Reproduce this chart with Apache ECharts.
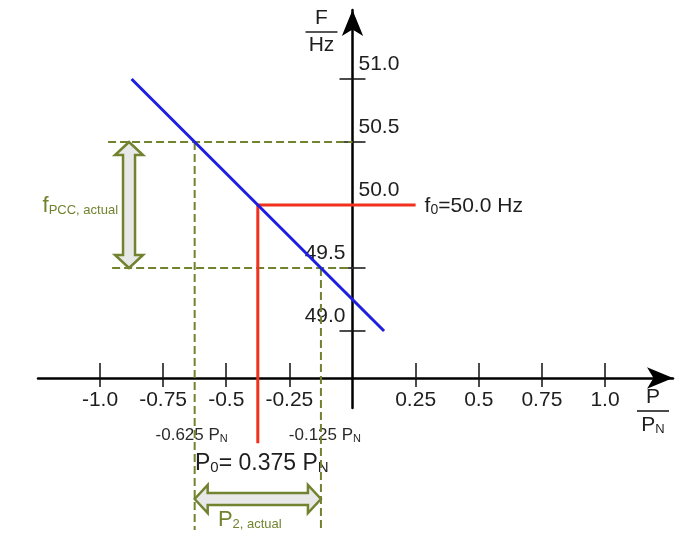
<!DOCTYPE html>
<html>
<head>
<meta charset="utf-8">
<script src="https://cdn.jsdelivr.net/npm/echarts@6/dist/echarts.min.js"></script>
<style>
html,body{margin:0;padding:0;background:#fff;}
#chart{width:692px;height:542px;}
</style>
</head>
<body>
<div id="chart"></div>
<script>
// ---------- data ----------
const xTickValues = [-1.0, -0.75, -0.5, -0.25, 0.25, 0.5, 0.75, 1.0];
const xTickLabels = ['-1.0', '-0.75', '-0.5', '-0.25', '0.25', '0.5', '0.75', '1.0'];
const yTickValues = [49.0, 49.5, 50.0, 50.5, 51.0];
const yTickLabels = ['49.0', '49.5', '50.0', '50.5', '51.0'];
const yLabelsRightSide = [50.0, 50.5, 51.0];
const yLabelsLeftSide = [49.0, 49.5];

// droop characteristic (P/PN, F/Hz)
const droopP = [-0.875, 0.125];
const droopF = [51.0, 49.0];

// operating point
const p0 = -0.375;        // P0 = 0.375 PN (drawn at -0.375)
const f0 = 50.0;          // f0 = 50.0 Hz
const f0LineEndP = 0.25;  // end of f0 reference line

// actual range
const pLow = -0.625;
const pHigh = -0.125;
const fHigh = 50.5;
const fLow = 49.5;

// ---------- layout constants (drawing extents, not data) ----------
const X_MIN = -1.2455, X_MAX = 1.2693;
const Y_MIN = 48.389, Y_MAX = 51.5476;
const Y_AXIS_SHIFT = -314.5;  // y axis drawn at P = 0
const AXIS_F = 48.627;        // where the P axis crosses
const RED_END_F = 48.11;
const GUIDE_START_P = -0.968;
const GUIDE_END_F = 47.42;
const F_ARROW_P = -0.885;
const P_ARROW_F = 47.667;

const OLIVE = '#72832f';
const INK = '#1e1e1e';
const FONT = 'Liberation Sans, Arial, sans-serif';

function lbl(values, labels) {
  return function (v) {
    for (let i = 0; i < values.length; i++) {
      if (Math.abs(values[i] - v) < 1e-9) return labels[i];
    }
    return '';
  };
}

const chart = echarts.init(document.getElementById('chart'), null, {renderer: 'canvas'});

const axisLabelStyle = {color: INK, fontSize: 21, fontFamily: FONT};

function doubleArrow(params, api) {
  const a = api.coord([api.value(0), api.value(1)]);
  const b = api.coord([api.value(2), api.value(3)]);
  const dx = b[0] - a[0], dy = b[1] - a[1];
  const L = Math.sqrt(dx * dx + dy * dy);
  const ux = dx / L, uy = dy / L;
  const nx = -uy, ny = ux;
  const h = 13, W = 14, w = 6;
  const P = (p, s, t) => [p[0] + ux * s + nx * t, p[1] + uy * s + ny * t];
  const pts = [
    a, P(a, h, W), P(a, h, w), P(b, -h, w), P(b, -h, W),
    b, P(b, -h, -W), P(b, -h, -w), P(a, h, -w), P(a, h, -W)
  ];
  return {
    type: 'polygon',
    shape: {points: pts},
    style: {fill: '#e8e8e8', stroke: OLIVE, lineWidth: 2.5, lineJoin: 'miter'}
  };
}

const subRich = {
  big: {fontSize: 23, fontFamily: FONT, color: INK, lineHeight: 26, verticalAlign: 'bottom'},
  sub: {fontSize: 15, fontFamily: FONT, color: INK, lineHeight: 17, verticalAlign: 'bottom'},
  mid: {fontSize: 17, fontFamily: FONT, color: '#2a2a2a', lineHeight: 20, verticalAlign: 'bottom'},
  msub: {fontSize: 11, fontFamily: FONT, color: '#2a2a2a', lineHeight: 14, verticalAlign: 'bottom'},
  gbig: {fontSize: 22, fontFamily: FONT, color: OLIVE, lineHeight: 24, verticalAlign: 'bottom'},
  gsmall: {fontSize: 13, fontFamily: FONT, color: OLIVE, lineHeight: 20, verticalAlign: 'bottom'},
  fbig: {fontSize: 21, fontFamily: FONT, color: INK, lineHeight: 24, verticalAlign: 'bottom'},
  fsub: {fontSize: 14, fontFamily: FONT, color: INK, lineHeight: 16, verticalAlign: 'bottom'}
};

const annotations = [
  {value: [F_ARROW_P, f0], label: {position: 'left', distance: 11, formatter: '{gbig|f}{gsmall|PCC, actual}'}},
  {value: [(pLow + pHigh) / 2, P_ARROW_F], label: {position: 'inside', offset: [-8, 20], formatter: '{gbig|P}{gsmall|2, actual}'}},
  {value: [pLow, AXIS_F], label: {position: 'inside', offset: [-3, 56], formatter: '{mid|' + pLow + ' P}{msub|N}'}},
  {value: [pHigh, AXIS_F], label: {position: 'inside', offset: [4, 56], formatter: '{mid|' + pHigh + ' P}{msub|N}'}},
  {value: [p0, AXIS_F], label: {position: 'inside', offset: [4, 84], formatter: '{big|P}{sub|0}{big|= ' + (-p0) + ' P}{sub|N}'}},
  {value: [f0LineEndP, f0], label: {position: 'right', distance: 9, formatter: '{fbig|f}{fsub|0}{fbig|=' + f0.toFixed(1) + ' Hz}'}}
];

const option = {
  animation: false,
  backgroundColor: '#ffffff',
  grid: {left: 38, right: 19, top: 10, bottom: 134, containLabel: false, outerBoundsMode: 'none'},
  xAxis: [
    {
      type: 'value', min: X_MIN, max: X_MAX, position: 'bottom', offset: -30,
      name: '{n|P}\n{l|}\n{n|P}{s|N}',
      nameLocation: 'end', nameGap: -20,
      nameTextStyle: {
        align: 'center', verticalAlign: 'top', padding: [8, 0, 0, 0],
        rich: {
          n: {fontSize: 21, fontFamily: FONT, color: INK, lineHeight: 22, align: 'center'},
          s: {fontSize: 13, fontFamily: FONT, color: INK, lineHeight: 16, verticalAlign: 'bottom'},
          l: {width: 32, height: 1.6, lineHeight: 6, backgroundColor: INK}
        }
      },
      axisLine: {show: true, onZero: false, symbol: ['none', 'arrow'], symbolSize: [16, 26],
                 lineStyle: {color: '#000', width: 2.5}},
      axisTick: {show: true, inside: true, length: 15, customValues: xTickValues,
                 lineStyle: {color: '#111', width: 1.5}},
      axisLabel: Object.assign({show: true, margin: 12, customValues: xTickValues,
                 formatter: lbl(xTickValues, xTickLabels)}, axisLabelStyle),
      splitLine: {show: false}
    },
    {
      type: 'value', min: X_MIN, max: X_MAX, position: 'bottom', offset: -30,
      axisLine: {show: false, onZero: false},
      axisTick: {show: true, inside: false, length: 9, customValues: xTickValues,
                 lineStyle: {color: '#111', width: 1.5}},
      axisLabel: {show: false},
      splitLine: {show: false}
    }
  ],
  yAxis: [
    {
      type: 'value', min: Y_MIN, max: Y_MAX, position: 'left', offset: Y_AXIS_SHIFT,
      name: '{n|F}\n{l|}\n{n|Hz}',
      nameLocation: 'end', nameGap: -22,
      nameTextStyle: {
        align: 'right', verticalAlign: 'middle', padding: [0, 15, 0, 0],
        rich: {
          n: {fontSize: 21, fontFamily: FONT, color: INK, lineHeight: 23, align: 'center'},
          l: {width: 32, height: 1.6, lineHeight: 4, backgroundColor: INK, align: 'center'}
        }
      },
      axisLine: {show: true, onZero: false, symbol: ['none', 'arrow'], symbolSize: [16, 26],
                 lineStyle: {color: '#000', width: 2.5}},
      axisTick: {show: true, inside: false, length: 13, customValues: yTickValues,
                 lineStyle: {color: '#111', width: 1.5}},
      axisLabel: Object.assign({show: true, inside: true, margin: 6, customValues: yLabelsRightSide,
                 verticalAlign: 'bottom', padding: [0, 0, 4, 0],
                 formatter: lbl(yTickValues, yTickLabels)}, axisLabelStyle),
      splitLine: {show: false}
    },
    {
      type: 'value', min: Y_MIN, max: Y_MAX, position: 'left', offset: Y_AXIS_SHIFT,
      axisLine: {show: false, onZero: false},
      axisTick: {show: true, inside: true, length: 13, customValues: yTickValues,
                 lineStyle: {color: '#111', width: 1.5}},
      axisLabel: Object.assign({show: true, inside: false, margin: 7, customValues: yLabelsLeftSide,
                 verticalAlign: 'bottom', padding: [0, 0, 4, 0],
                 formatter: lbl(yTickValues, yTickLabels)}, axisLabelStyle),
      splitLine: {show: false}
    }
  ],
  series: [
    // guide lines (dashed)
    {type: 'line', name: 'fHighGuide', clip: false, symbol: 'none', silent: true,
     lineStyle: {color: OLIVE, width: 2, type: [8, 4]},
     data: [[GUIDE_START_P, fHigh], [0, fHigh]]},
    {type: 'line', name: 'fLowGuide', clip: false, symbol: 'none', silent: true,
     lineStyle: {color: OLIVE, width: 2, type: [8, 4]},
     data: [[GUIDE_START_P + 0.016, fLow], [0, fLow]]},
    {type: 'line', name: 'pLowGuide', clip: false, symbol: 'none', silent: true,
     lineStyle: {color: OLIVE, width: 2, type: [8, 4]},
     data: [[pLow, fHigh], [pLow, GUIDE_END_F]]},
    {type: 'line', name: 'pHighGuide', clip: false, symbol: 'none', silent: true,
     lineStyle: {color: OLIVE, width: 2, type: [8, 4]},
     data: [[pHigh, fLow], [pHigh, GUIDE_END_F]]},
    // f0 / P0 reference (red)
    {type: 'line', name: 'setpoint', clip: false, symbol: 'none', silent: true,
     lineStyle: {color: '#f2301e', width: 3},
     data: [[f0LineEndP, f0], [p0, f0], [p0, RED_END_F]]},
    // droop characteristic (blue)
    {type: 'line', name: 'droop', clip: false, symbol: 'none', silent: true,
     lineStyle: {color: '#1e1ee0', width: 3},
     data: droopP.map((p, i) => [p, droopF[i]])},
    // double arrows
    {type: 'custom', name: 'arrows', clip: false, silent: true,
     renderItem: doubleArrow,
     encode: {x: [0, 2], y: [1, 3]},
     data: [[F_ARROW_P, fHigh, F_ARROW_P, fLow], [pLow, P_ARROW_F, pHigh, P_ARROW_F]]},
    // annotations
    {type: 'scatter', name: 'annotations', clip: false, symbolSize: 0, silent: true,
     itemStyle: {opacity: 1},
     label: {show: true, opacity: 1, rich: subRich},
     data: annotations}
  ]
};

chart.setOption(option);
</script>
</body>
</html>
